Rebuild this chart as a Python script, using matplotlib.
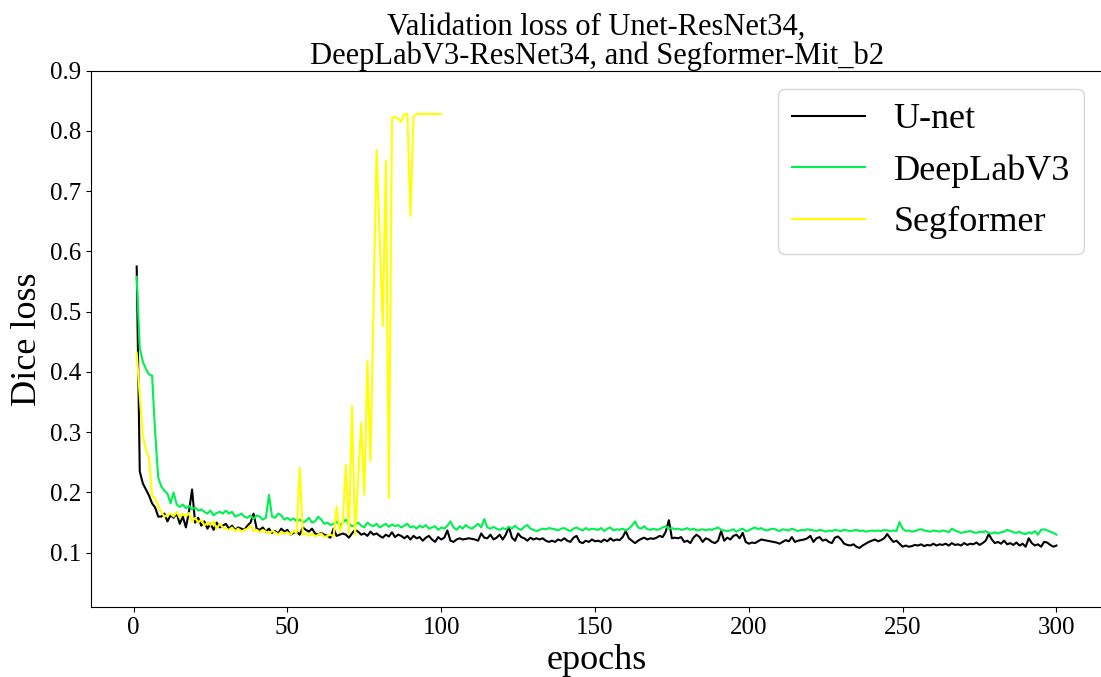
import numpy as np
import matplotlib
matplotlib.use('Agg')
import matplotlib.pyplot as plt

plt.rcParams['font.family'] = ['Liberation Serif', 'DejaVu Serif']

# validation dice loss per epoch
unet = [
    0.575, 0.235, 0.215, 0.205, 0.195, 0.182, 0.175, 0.160, 0.160, 0.165,
    0.152, 0.162, 0.158, 0.165, 0.148, 0.160, 0.142, 0.168, 0.205, 0.150,
    0.158, 0.145, 0.152, 0.140, 0.148, 0.138, 0.150, 0.142, 0.145, 0.148,
    0.140, 0.145, 0.138, 0.142, 0.140, 0.138, 0.145, 0.150, 0.165, 0.140,
    0.138, 0.142, 0.135, 0.140, 0.133, 0.136, 0.132, 0.140, 0.135, 0.138,
    0.130, 0.133, 0.135, 0.130, 0.142, 0.138, 0.135, 0.140, 0.132, 0.130,
    0.133, 0.130, 0.128, 0.125, 0.140, 0.128, 0.130, 0.132, 0.130, 0.125,
    0.132, 0.138, 0.135, 0.130, 0.132, 0.128, 0.135, 0.130, 0.132, 0.128,
    0.125, 0.130, 0.127, 0.134, 0.126, 0.130, 0.128, 0.124, 0.128, 0.122,
    0.128, 0.124, 0.126, 0.120, 0.125, 0.128, 0.122, 0.118, 0.126, 0.122,
    0.125, 0.137, 0.120, 0.118, 0.122, 0.124, 0.122, 0.123, 0.124, 0.123,
    0.122, 0.120, 0.132, 0.125, 0.124, 0.130, 0.122, 0.125, 0.130, 0.122,
    0.130, 0.143, 0.125, 0.120, 0.132, 0.126, 0.124, 0.120, 0.125, 0.122,
    0.124, 0.122, 0.124, 0.120, 0.118, 0.120, 0.118, 0.122, 0.120, 0.124,
    0.120, 0.118, 0.125, 0.128, 0.118, 0.116, 0.120, 0.118, 0.122, 0.119,
    0.120, 0.118, 0.122, 0.119, 0.124, 0.120, 0.122, 0.121, 0.126, 0.136,
    0.124, 0.120, 0.116, 0.120, 0.123, 0.125, 0.122, 0.124, 0.123, 0.125,
    0.128, 0.126, 0.135, 0.154, 0.124, 0.125, 0.124, 0.126, 0.118, 0.120,
    0.116, 0.125, 0.130, 0.126, 0.118, 0.124, 0.122, 0.118, 0.116, 0.120,
    0.136, 0.120, 0.125, 0.122, 0.128, 0.130, 0.124, 0.133, 0.118, 0.115,
    0.117, 0.116, 0.119, 0.122, 0.121, 0.120, 0.119, 0.118, 0.117, 0.115,
    0.118, 0.121, 0.119, 0.126, 0.118, 0.120, 0.121, 0.122, 0.124, 0.128,
    0.118, 0.124, 0.126, 0.120, 0.122, 0.118, 0.116, 0.125, 0.127, 0.122,
    0.115, 0.113, 0.112, 0.114, 0.110, 0.108, 0.112, 0.115, 0.118, 0.120,
    0.122, 0.119, 0.121, 0.124, 0.131, 0.124, 0.118, 0.120, 0.115, 0.110,
    0.112, 0.110, 0.111, 0.113, 0.112, 0.114, 0.111, 0.113, 0.112, 0.115,
    0.112, 0.114, 0.113, 0.115, 0.112, 0.116, 0.113, 0.114, 0.112, 0.116,
    0.113, 0.115, 0.114, 0.117, 0.113, 0.116, 0.120, 0.131, 0.122, 0.116,
    0.118, 0.115, 0.120, 0.114, 0.116, 0.113, 0.117, 0.112, 0.115, 0.110,
    0.124, 0.116, 0.112, 0.114, 0.110, 0.118, 0.117, 0.113, 0.110, 0.112,
]

deeplab = [
    0.558, 0.440, 0.417, 0.405, 0.396, 0.394, 0.300, 0.225, 0.210, 0.203,
    0.198, 0.182, 0.200, 0.180, 0.176, 0.180, 0.174, 0.178, 0.172, 0.175,
    0.170, 0.172, 0.168, 0.165, 0.170, 0.162, 0.166, 0.168, 0.165, 0.170,
    0.165, 0.168, 0.160, 0.162, 0.165, 0.160, 0.158, 0.162, 0.156, 0.162,
    0.160, 0.155, 0.158, 0.196, 0.160, 0.158, 0.165, 0.162, 0.155, 0.158,
    0.154, 0.157, 0.152, 0.155, 0.150, 0.153, 0.158, 0.150, 0.152, 0.160,
    0.155, 0.148, 0.150, 0.146, 0.148, 0.152, 0.145, 0.150, 0.155, 0.148,
    0.144, 0.146, 0.150, 0.145, 0.142, 0.150, 0.146, 0.144, 0.148, 0.142,
    0.145, 0.148, 0.143, 0.147, 0.144, 0.146, 0.142, 0.145, 0.148, 0.142,
    0.144, 0.140, 0.145, 0.142, 0.146, 0.140, 0.142, 0.144, 0.138, 0.142,
    0.140, 0.145, 0.152, 0.142, 0.138, 0.144, 0.140, 0.146, 0.142, 0.140,
    0.144, 0.148, 0.142, 0.156, 0.142, 0.140, 0.143, 0.140, 0.138, 0.141,
    0.139, 0.143, 0.140, 0.145, 0.140, 0.138, 0.143, 0.146, 0.140, 0.138,
    0.136, 0.138, 0.140, 0.139, 0.141, 0.140, 0.139, 0.137, 0.140, 0.141,
    0.138, 0.136, 0.140, 0.142, 0.139, 0.137, 0.141, 0.138, 0.140, 0.139,
    0.138, 0.141, 0.136, 0.140, 0.142, 0.137, 0.139, 0.138, 0.140, 0.137,
    0.140, 0.145, 0.152, 0.142, 0.140, 0.144, 0.139, 0.138, 0.140, 0.138,
    0.139, 0.142, 0.144, 0.140, 0.141, 0.139, 0.140, 0.138, 0.139, 0.141,
    0.138, 0.140, 0.137, 0.138, 0.139, 0.137, 0.139, 0.138, 0.140, 0.142,
    0.138, 0.137, 0.136, 0.137, 0.139, 0.135, 0.138, 0.140, 0.136, 0.137,
    0.140, 0.142, 0.139, 0.141, 0.138, 0.137, 0.139, 0.140, 0.138, 0.136,
    0.139, 0.138, 0.137, 0.140, 0.138, 0.136, 0.138, 0.137, 0.139, 0.138,
    0.137, 0.136, 0.138, 0.137, 0.135, 0.137, 0.136, 0.138, 0.137, 0.136,
    0.138, 0.137, 0.136, 0.137, 0.138, 0.136, 0.137, 0.135, 0.136, 0.137,
    0.136, 0.137, 0.136, 0.138, 0.137, 0.136, 0.137, 0.136, 0.151, 0.140,
    0.136, 0.137, 0.135, 0.136, 0.138, 0.139, 0.137, 0.136, 0.135, 0.137,
    0.136, 0.135, 0.137, 0.136, 0.134, 0.140, 0.137, 0.135, 0.133, 0.134,
    0.135, 0.136, 0.134, 0.133, 0.135, 0.134, 0.136, 0.133, 0.132, 0.134,
    0.132, 0.134, 0.135, 0.138, 0.136, 0.134, 0.133, 0.135, 0.132, 0.131,
    0.134, 0.132, 0.136, 0.130, 0.138, 0.139, 0.137, 0.135, 0.133, 0.130,
]

segformer = [
    0.432, 0.360, 0.295, 0.270, 0.258, 0.195, 0.190, 0.178, 0.168, 0.160,
    0.162, 0.165, 0.160, 0.168, 0.158, 0.165, 0.160, 0.166, 0.152, 0.158,
    0.150, 0.155, 0.145, 0.150, 0.146, 0.152, 0.140, 0.148, 0.142, 0.140,
    0.138, 0.142, 0.136, 0.140, 0.135, 0.138, 0.140, 0.145, 0.136, 0.138,
    0.134, 0.138, 0.135, 0.132, 0.136, 0.134, 0.130, 0.135, 0.132, 0.134,
    0.130, 0.136, 0.133, 0.241, 0.130, 0.132, 0.128, 0.132, 0.127, 0.130,
    0.132, 0.126, 0.128, 0.130, 0.127, 0.177, 0.135, 0.150, 0.246, 0.133,
    0.344, 0.130, 0.220, 0.316, 0.196, 0.418, 0.252, 0.510, 0.768, 0.620,
    0.476, 0.751, 0.191, 0.822, 0.823, 0.820, 0.815, 0.828, 0.828, 0.659,
    0.823, 0.828, 0.828, 0.828, 0.828, 0.828, 0.828, 0.828, 0.828, 0.828,
]

labels = ['U-net', 'DeepLabV3', 'Segformer']
colors = ['black', '#00f050', '#ffff00']

fig = plt.figure(figsize=(11.01, 6.77), dpi=100)
ax = fig.add_axes([90.7 / 1101, 1 - 607 / 677, (1102.4 - 90.7) / 1101, (607 - 70.6) / 677])

for series, lab, col in zip([unet, deeplab, segformer], labels, colors):
    ax.plot(np.arange(1, len(series) + 1), series, color=col, linewidth=1.5, label=lab)

ax.set_xlim(-13.95, 314.95)
ax.set_ylim(0.01, 0.9)
ax.set_xticks([0, 50, 100, 150, 200, 250, 300])
ax.set_yticks([0.1, 0.2, 0.3, 0.4, 0.5, 0.6, 0.7, 0.8, 0.9])
ax.tick_params(labelsize=18)

ax.set_title('Validation loss of Unet-ResNet34,\nDeepLabV3-ResNet34, and Segformer-Mit_b2',
             fontsize=22, linespacing=0.95, pad=5)
ax.set_xlabel('epochs', fontsize=26)
ax.set_ylabel('Dice loss', fontsize=26)
ax.legend(loc='upper right', fontsize=26)

plt.savefig('out.png', dpi=100)
